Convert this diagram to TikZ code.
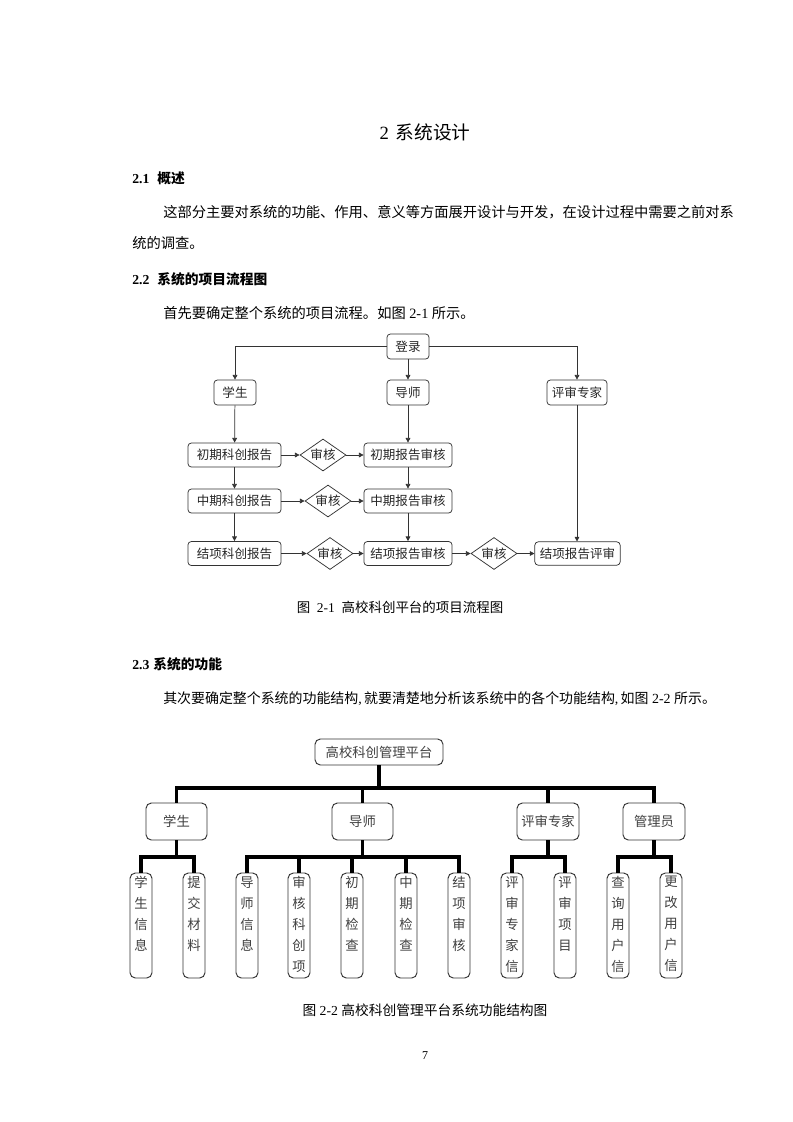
\documentclass[tikz,border=0pt]{standalone}
\usepackage{fontspec}
\setmainfont{Liberation Serif}
\newfontfamily\cjk{Noto Sans CJK SC}
\usetikzlibrary{arrows.meta,shapes.geometric}
\newcommand\zh[1]{{\cjk #1}}
\newcommand\leaftext[1]{\parbox[c][78.75pt][t]{16pt}{\centering\fontsize{10}{15.75}\selectfont\vspace*{2.5pt}#1}}
\begin{document}
\begin{tikzpicture}[x=0.75pt,y=-0.75pt,
  fbox/.style={draw=black!80, rounded corners=2.5pt, line width=0.55pt, inner sep=0pt,
    font=\cjk\fontsize{9.4}{9.4}\selectfont, text=black!85},
  fdia/.style={diamond, draw=black!80, line width=0.55pt, inner sep=0pt, aspect=1.5,
    minimum width=34.5pt, minimum height=24pt, font=\cjk\fontsize{9.4}{9.4}\selectfont, text=black!85},
  arr/.style={draw=black!80, line width=0.55pt, -{Triangle[length=3.5pt,width=3.5pt]}},
  tbox/.style={draw=black!80, rounded corners=4pt, line width=0.7pt, inner sep=0pt,
    font=\cjk\fontsize{10}{10}\selectfont, text=black!75},
  leafbox/.style={tbox, minimum width=16.5pt, minimum height=78.75pt},
  tl/.style={line width=2.4pt, black},
  body/.style={anchor=west, inner sep=0pt, font=\cjk\fontsize{10.7}{10.7}\selectfont},
  head/.style={anchor=west, inner sep=0pt, font=\fontsize{10.3}{10.3}\selectfont\bfseries},
  captext/.style={inner sep=0pt, font=\fontsize{10.1}{10.1}\selectfont}
]
\useasboundingbox (0,0) rectangle (793,1122);
\fill[white] (0,0) rectangle (793,1122);

% ---------- page text ----------
\node[inner sep=0pt, font=\fontsize{14}{14}\selectfont] (title) at (425,132) {2\hspace{5pt}\zh{系统设计}};
\node[head] (h21) at (132,178) {2.1\hspace{6pt}{\cjk\bfseries 概述}};
\node[body] (p1a) at (163,212) {这部分主要对系统的功能、作用、意义等方面展开设计与开发，在设计过程中需要之前对系};
\node[body] (p1b) at (132,243) {统的调查。};
\node[head] (h22) at (132,279) {2.2\hspace{6pt}{\cjk\bfseries 系统的项目流程图}};
\node[body] (p2) at (163,313) {首先要确定整个系统的项目流程。如图{\fontfamily{\rmdefault}\selectfont\ 2-1\ }所示。};

% ---------- figure 2-1 ----------
\node[fbox, minimum width=31.5pt, minimum height=18.75pt] (login) at (408,346.5) {登录};
\node[fbox, minimum width=31.5pt, minimum height=18.75pt] (stu) at (235,392.5) {学生};
\node[fbox, minimum width=31.5pt, minimum height=18.75pt] (tut) at (408,392.5) {导师};
\node[fbox, minimum width=45pt, minimum height=18.75pt] (exp) at (577,392.5) {评审专家};

\node[fbox, minimum width=69.75pt, minimum height=18pt] (s1) at (234.5,455) {初期科创报告};
\node[fbox, minimum width=69.75pt, minimum height=18pt] (s2) at (234.5,501) {中期科创报告};
\node[fbox, minimum width=69.75pt, minimum height=18pt] (s3) at (234.5,553.5) {结项科创报告};

\node[fdia] (d1) at (323,455) {审核};
\node[fdia] (d2) at (328,501) {审核};
\node[fdia] (d3) at (330,553.5) {审核};
\node[fdia] (d4) at (494,553.5) {审核};

\node[fbox, minimum width=66pt, minimum height=18pt] (t1) at (408,455) {初期报告审核};
\node[fbox, minimum width=66pt, minimum height=18pt] (t2) at (408,501) {中期报告审核};
\node[fbox, minimum width=66pt, minimum height=18pt] (t3) at (408,553.5) {结项报告审核};
\node[fbox, minimum width=64pt, minimum height=17.5pt] (r3) at (577.5,553.5) {结项报告评审};

\draw[arr] (login.west) -| (stu.north);
\draw[arr] (login.east) -| (exp.north);
\draw[arr] (login) -- (tut);
\draw[arr] (stu) -- (s1);
\draw[arr] (s1) -- (s2);
\draw[arr] (s2) -- (s3);
\draw[arr] (tut) -- (t1);
\draw[arr] (t1) -- (t2);
\draw[arr] (t2) -- (t3);
\draw[arr] (exp.south) -- (exp.south |- r3.north);
\draw[arr] (s1) -- (d1);
\draw[arr] (d1) -- (t1);
\draw[arr] (s2) -- (d2);
\draw[arr] (d2) -- (t2);
\draw[arr] (s3) -- (d3);
\draw[arr] (d3) -- (t3);
\draw[arr] (t3) -- (d4);
\draw[arr] (d4) -- (r3);

\node[captext] (cap1) at (400,607) {\zh{图}\ \ 2-1\ \ \zh{高校科创平台的项目流程图}};

% ---------- section 2.3 ----------
\node[head] (h23) at (132,664) {2.3\hspace{3pt}{\cjk\bfseries 系统的功能}};
\node[body, font=\cjk\fontsize{10.45}{10.45}\selectfont] (p3) at (163,699) {其次要确定整个系统的功能结构{\fontfamily{\rmdefault}\selectfont,\,}就要清楚地分析该系统中的各个功能结构{\fontfamily{\rmdefault}\selectfont,\,}如图{\fontfamily{\rmdefault}\selectfont\ 2-2\ }所示。};

% ---------- figure 2-2 ----------
\node[tbox, minimum width=96pt, minimum height=19.5pt] (top) at (379,752) {高校科创管理平台};
\node[tbox, minimum width=45.75pt, minimum height=27.75pt] (a1) at (176.5,821.5) {学生};
\node[tbox, minimum width=45.75pt, minimum height=27.75pt] (a2) at (362.5,821.5) {导师};
\node[tbox, minimum width=46.5pt, minimum height=27.75pt] (a3) at (548,821.5) {评审专家};
\node[tbox, minimum width=46.5pt, minimum height=27.75pt] (a4) at (654,821.5) {管理员};

\node[leafbox] (l1) at (141,925.5) {\leaftext{学\\生\\信\\息}};
\node[leafbox] (l2) at (194,925.5) {\leaftext{提\\交\\材\\料}};
\node[leafbox] (l3) at (247,925.5) {\leaftext{导\\师\\信\\息}};
\node[leafbox] (l4) at (299,925.5) {\leaftext{审\\核\\科\\创\\项}};
\node[leafbox] (l5) at (352,925.5) {\leaftext{初\\期\\检\\查}};
\node[leafbox] (l6) at (406,925.5) {\leaftext{中\\期\\检\\查}};
\node[leafbox] (l7) at (459,925.5) {\leaftext{结\\项\\审\\核}};
\node[leafbox] (l8) at (512,925.5) {\leaftext{评\\审\\专\\家\\信}};
\node[leafbox] (l9) at (565,925.5) {\leaftext{评\\审\\项\\目}};
\node[leafbox] (l10) at (618,925.5) {\leaftext{查\\询\\用\\户\\信}};
\node[leafbox] (l11) at (671,925.5) {\leaftext{更\\改\\用\\户\\信}};

\coordinate (bar1) at (0,788);
\coordinate (bar2) at (0,857);
\draw[tl] (top.south) -- (top.south |- bar1);
\draw[tl] (a1.north) |- (a4.north |- bar1) -- (a4.north);
\draw[tl] (a2.north) -- (a2.north |- bar1);
\draw[tl] (a3.north) -- (a3.north |- bar1);

\draw[tl] (a1.south) -- (a1.south |- bar2);
\draw[tl] (l1.north) |- (l2.north |- bar2) -- (l2.north);
\draw[tl] (a2.south) -- (a2.south |- bar2);
\draw[tl] (l3.north) |- (l7.north |- bar2) -- (l7.north);
\draw[tl] (l4.north) -- (l4.north |- bar2);
\draw[tl] (l5.north) -- (l5.north |- bar2);
\draw[tl] (l6.north) -- (l6.north |- bar2);
\draw[tl] (a3.south) -- (a3.south |- bar2);
\draw[tl] (l8.north) |- (l9.north |- bar2) -- (l9.north);
\draw[tl] (a4.south) -- (a4.south |- bar2);
\draw[tl] (l10.north) |- (l11.north |- bar2) -- (l11.north);

\node[captext, font=\fontsize{10.3}{10.3}\selectfont] (cap2) at (425,1010) {\zh{图}\ 2-2\ \zh{高校科创管理平台系统功能结构图}};
\node[inner sep=0pt, font=\fontsize{9}{9}\selectfont] (pg) at (425,1056) {7};
\end{tikzpicture}
\end{document}
